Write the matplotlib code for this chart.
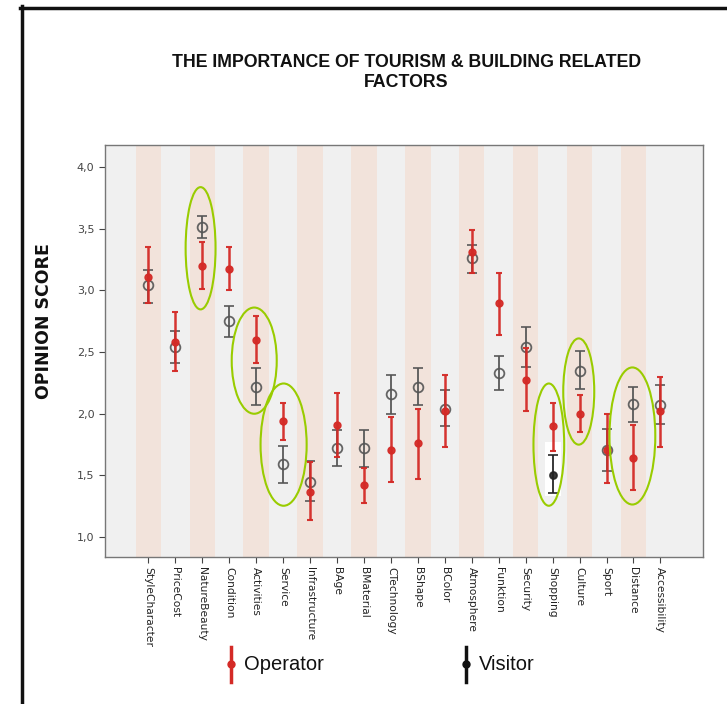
import numpy as np
import matplotlib.pyplot as plt
from matplotlib.patches import Ellipse, Rectangle
from matplotlib.lines import Line2D
from matplotlib.ticker import FuncFormatter

categories = ['StyleCharacter', 'PriceCost', 'NatureBeauty', 'Condition', 'Activities',
              'Service', 'Infrastructure', 'BAge', 'BMaterial', 'CTechnology',
              'BShape', 'BColor', 'Atmosphere', 'Funktion', 'Security',
              'Shopping', 'Culture', 'Sport', 'Distance', 'Accessibility']

# Operator: mean, lower and upper end of the error bar
op_mean = [3.11, 2.58, 3.20, 3.17, 2.60, 1.94, 1.37, 1.91, 1.42, 1.71,
           1.76, 2.02, 3.31, 2.90, 2.27, 1.90, 2.00, 1.71, 1.64, 2.02]
op_low = [2.90, 2.35, 3.01, 3.00, 2.41, 1.79, 1.14, 1.65, 1.28, 1.45,
          1.47, 1.73, 3.14, 2.64, 2.02, 1.70, 1.85, 1.44, 1.38, 1.73]
op_high = [3.35, 2.82, 3.39, 3.35, 2.79, 2.09, 1.61, 2.17, 1.56, 1.97,
           2.04, 2.31, 3.49, 3.14, 2.53, 2.09, 2.15, 2.00, 1.91, 2.30]

# Visitor
vis_mean = [3.04, 2.54, 3.51, 2.75, 2.22, 1.59, 1.45, 1.72, 1.72, 2.16,
            2.22, 2.04, 3.26, 2.33, 2.54, 1.50, 2.35, 1.71, 2.08, 2.07]
vis_low = [2.90, 2.41, 3.42, 2.62, 2.07, 1.44, 1.29, 1.58, 1.57, 2.00,
           2.07, 1.90, 3.14, 2.19, 2.38, 1.36, 2.20, 1.54, 1.93, 1.92]
vis_high = [3.16, 2.67, 3.60, 2.87, 2.37, 1.74, 1.62, 1.87, 1.87, 2.31,
            2.37, 2.19, 3.37, 2.47, 2.70, 1.67, 2.51, 1.88, 2.22, 2.23]

# green rings drawn on the chart (category index, centre value, width, height)
rings = [(1.94, 3.34, 1.11, 0.99), (3.93, 2.43, 1.67, 0.86), (5.02, 1.75, 1.71, 0.99),
         (14.86, 1.75, 1.14, 0.99), (15.97, 2.18, 1.15, 0.86), (17.96, 1.82, 1.70, 1.11)]

x = np.arange(len(categories))
op_mean = np.array(op_mean)
vis_mean = np.array(vis_mean)

fig = plt.figure(figsize=(7.27, 7.04), dpi=100)
ax = fig.add_axes([0.1444, 0.2088, 0.8226, 0.5852])
ax.set_facecolor('#f0f0f0')

for i in x:
    if i % 2 == 0:
        ax.axvspan(i - 0.47, i + 0.47, color='#f2e3db', zorder=0, lw=0)

# Shopping visitor was highlighted on a white patch
ax.add_patch(Rectangle((14.7, 1.33), 0.6, 0.44, facecolor='white', edgecolor='none', zorder=1))

# visitor (open grey circles)
vis_col = ['#222222' if c == 'Shopping' else '#555555' for c in categories]
for i in x:
    shop = categories[i] == 'Shopping'
    ax.errorbar(x[i], vis_mean[i],
                yerr=[[vis_mean[i] - vis_low[i]], [vis_high[i] - vis_mean[i]]],
                fmt='o', color=vis_col[i], ecolor=vis_col[i], elinewidth=1.4,
                capsize=3.5, capthick=1.4, markersize=5 if shop else 7,
                markerfacecolor=vis_col[i] if shop else 'none',
                markeredgewidth=1.3, zorder=3, alpha=0.9)

# operator (red dots)
ax.errorbar(x, op_mean, yerr=[op_mean - np.array(op_low), np.array(op_high) - op_mean],
            fmt='o', color='#d42a26', ecolor='#d42a26', elinewidth=1.8,
            capsize=2.5, capthick=1.5, markersize=5, zorder=4, alpha=0.95)

for cx, cy, w, h in rings:
    ax.add_patch(Ellipse((cx, cy), w, h, fill=False, edgecolor='#99cc00', lw=1.5, zorder=5))

ax.set_xlim(-1.607, 20.58)
ax.set_ylim(0.84, 4.176)
ax.set_yticks([1.0, 1.5, 2.0, 2.5, 3.0, 3.5, 4.0])
ax.yaxis.set_major_formatter(FuncFormatter(lambda v, p: ('%.1f' % v).replace('.', ',')))
ax.set_xticks(x)
ax.set_xticklabels(categories, rotation=270, fontsize=7.7, color='#222222')
ax.tick_params(axis='y', labelsize=8, colors='#444444', length=4, width=0.8)
ax.tick_params(axis='x', length=4, width=0.8, color='#444444')
for s in ax.spines.values():
    s.set_color('#777777')
    s.set_linewidth(1.0)

ax.set_ylabel('OPINION SCORE', fontsize=12.5, fontweight='bold', color='#111111')
ax.yaxis.set_label_coords(-0.087, 0.573)

fig.text(0.559, 0.897, 'THE IMPORTANCE OF TOURISM & BUILDING RELATED\nFACTORS',
         ha='center', va='center', fontsize=12.8, fontweight='bold', color='#111111',
         family='Liberation Sans', linespacing=1.25)

# legend drawn by hand like the original
W, H = 727, 704
for px, col, lab in [(231, '#d42a26', 'Operator'), (466, '#111111', 'Visitor')]:
    fig.add_artist(Line2D([px / W, px / W], [1 - 647 / H, 1 - 682 / H], color=col, lw=2.5))
    fig.add_artist(Line2D([px / W], [1 - 664 / H], marker='o', color=col, markersize=5))
    fig.text((px + 13) / W, 1 - 664 / H, lab, fontsize=14.5, va='center', ha='left',
             color='#111111', family='Liberation Sans')

# black frame lines at the top and left of the scan
fig.add_artist(Line2D([20 / W, 1], [1 - 7.5 / H, 1 - 7.5 / H], color='#111111', lw=2.5))
fig.add_artist(Line2D([21.5 / W, 21.5 / W], [0, 1 - 6 / H], color='#111111', lw=2.5))

fig.savefig('out.png', dpi=100)
